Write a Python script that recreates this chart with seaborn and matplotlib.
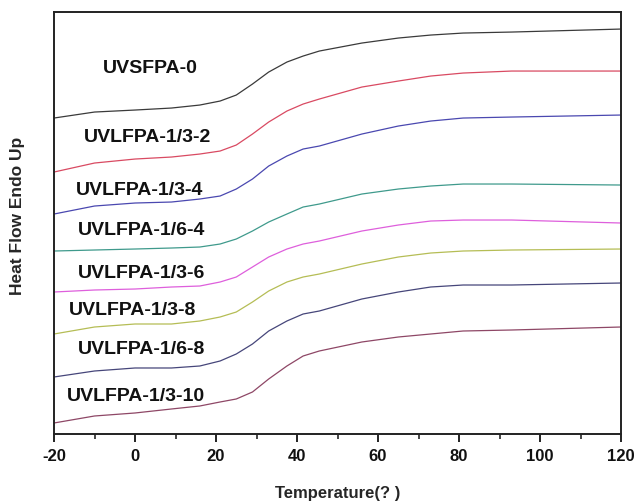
import matplotlib
matplotlib.use("Agg")
import matplotlib.pyplot as plt
import numpy as np
import pandas as pd
import seaborn as sns
from matplotlib.ticker import MultipleLocator

# temperature grid (°C) and heat flow traces (arb. units)
temperature = [-20, -10, 0, 9, 16, 21, 25, 29, 33, 37.5, 41.5, 45.5, 56, 65, 73, 81, 93, 120]

uvsfpa_0 = [31.6, 32.2, 32.4, 32.6, 32.9, 33.3, 33.9, 35.0, 36.2, 37.2, 37.8, 38.3, 39.1, 39.6, 39.9, 40.1, 40.2, 40.5]
uvlfpa_13_2 = [26.2, 27.1, 27.5, 27.7, 28.0, 28.3, 28.9, 30.0, 31.2, 32.3, 33.0, 33.5, 34.7, 35.3, 35.8, 36.1, 36.3, 36.3]
uvlfpa_13_4 = [22.0, 22.8, 23.1, 23.2, 23.5, 23.8, 24.5, 25.5, 26.8, 27.8, 28.5, 28.8, 30.0, 30.8, 31.3, 31.6, 31.7, 31.9]
uvlfpa_16_4 = [18.3, 18.4, 18.5, 18.6, 18.7, 19.0, 19.5, 20.3, 21.2, 22.0, 22.7, 23.0, 24.0, 24.5, 24.8, 25.0, 25.0, 24.9]
uvlfpa_13_6 = [14.2, 14.4, 14.5, 14.7, 14.8, 15.2, 15.7, 16.7, 17.7, 18.5, 19.0, 19.3, 20.3, 20.9, 21.3, 21.4, 21.4, 21.1]
uvlfpa_13_8 = [10.0, 10.7, 11.0, 11.0, 11.3, 11.7, 12.2, 13.2, 14.3, 15.2, 15.7, 16.0, 17.0, 17.7, 18.1, 18.3, 18.4, 18.5]
uvlfpa_16_8 = [5.7, 6.3, 6.6, 6.6, 6.8, 7.3, 8.0, 9.0, 10.3, 11.3, 12.0, 12.3, 13.5, 14.2, 14.7, 14.9, 14.9, 15.1]
uvlfpa_13_10 = [1.1, 1.8, 2.1, 2.5, 2.8, 3.2, 3.5, 4.2, 5.5, 6.8, 7.8, 8.3, 9.2, 9.7, 10.0, 10.3, 10.4, 10.7]

sample_names = ["UVSFPA-0", "UVLFPA-1/3-2", "UVLFPA-1/3-4", "UVLFPA-1/6-4",
                "UVLFPA-1/3-6", "UVLFPA-1/3-8", "UVLFPA-1/6-8", "UVLFPA-1/3-10"]
traces = [uvsfpa_0, uvlfpa_13_2, uvlfpa_13_4, uvlfpa_16_4,
          uvlfpa_13_6, uvlfpa_13_8, uvlfpa_16_8, uvlfpa_13_10]

colors = ["#3a3a3a", "#d94a62", "#4a48b0", "#3f9a8c",
          "#de5fdc", "#b5bd55", "#46467a", "#8e4766"]

# label anchor positions (temperature, heat flow)
label_x = [3.7, 3.0, 1.2, 1.7, 1.5, -0.5, 1.7, 0.2]
label_y = [36.7, 29.8, 24.5, 20.5, 16.2, 12.5, 8.5, 3.8]

rows = []
for name, vals in zip(sample_names, traces):
    for t, v in zip(temperature, vals):
        rows.append({"T": t, "HF": v, "sample": name})
df = pd.DataFrame(rows)

sns.set_style("ticks")
plt.rcParams['font.family'] = ['Liberation Sans', 'DejaVu Sans']
plt.rcParams['axes.unicode_minus'] = False

fig = plt.figure(figsize=(6.37, 5.02), dpi=100)
ax = fig.add_axes([0.0848, 0.1335, 0.975 - 0.0848, 0.974 - 0.1335])

sns.lineplot(data=df, x="T", y="HF", hue="sample", hue_order=sample_names,
             palette=colors, linewidth=0.9, legend=False, ax=ax, sort=True)

for name, x, y in zip(sample_names, label_x, label_y):
    ax.text(x, y, name, ha="center", va="center", fontsize=14,
            fontweight="bold", color="#111111")

ax.set_xlim(-20, 120)
ax.set_ylim(0, 42.2)
ax.xaxis.set_major_locator(MultipleLocator(20))
ax.xaxis.set_minor_locator(MultipleLocator(10))
ax.set_yticks([])
ax.tick_params(axis="x", which="major", direction="out", length=6, width=1.3,
               labelsize=12, pad=4, colors="#111111")
ax.tick_params(axis="x", which="minor", direction="out", length=3.5, width=1.2)
for lab in ax.get_xticklabels():
    lab.set_fontweight("bold")
for sp in ax.spines.values():
    sp.set_linewidth(1.4)
    sp.set_color("#222222")

ax.set_xlabel("Temperature(? )", fontsize=12, fontweight="bold", labelpad=16)
ax.set_ylabel("Heat Flow Endo Up", fontsize=12.5, fontweight="bold")
ax.yaxis.set_label_coords(-0.051, 0.52)

fig.savefig("out.png", dpi=100)
